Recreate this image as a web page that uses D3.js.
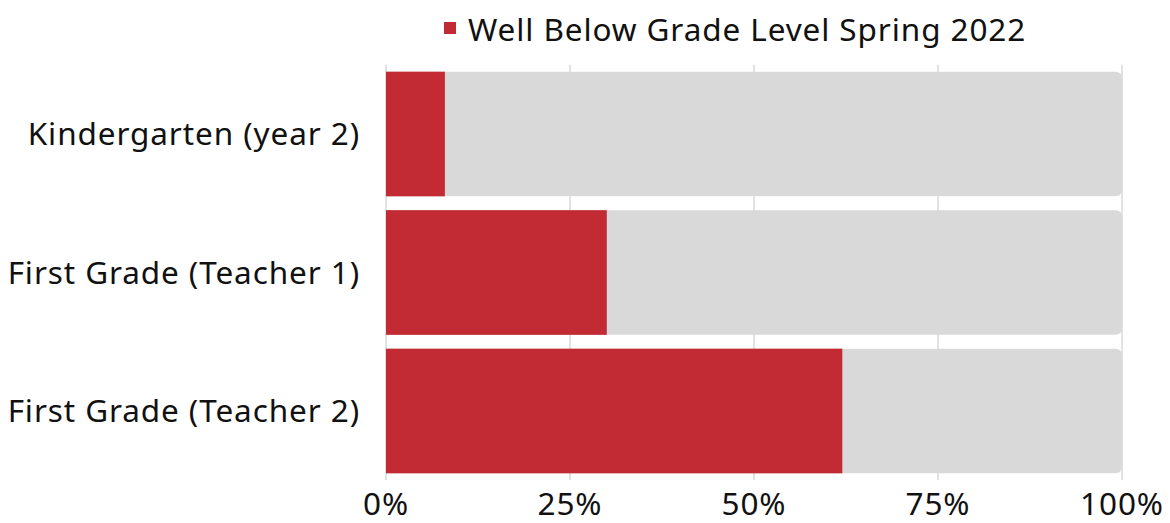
<!DOCTYPE html>
<html>
<head>
<meta charset="utf-8">
<script src="https://cdn.jsdelivr.net/npm/d3@7"></script>
<style>
html,body{margin:0;padding:0;background:#fff;}
svg{display:block;font-family:"Noto Sans",sans-serif;}
</style>
</head>
<body>
<svg id="chart" width="1170" height="523"></svg>
<script>
const categories = ["Kindergarten (year 2)", "First Grade (Teacher 1)", "First Grade (Teacher 2)"];
const wellBelow = [0.08, 0.30, 0.62];
const tickValues = [0, 0.25, 0.5, 0.75, 1];
const legendLabel = "Well Below Grade Level Spring 2022";

const svg = d3.select("#chart");
const margin = {left: 386, right: 48, top: 64.75, bottom: 42.75};
const W = 1170, H = 523;
const FS = 31.5, LS = 0.9;
const x = d3.scaleLinear().domain([0, 1]).range([margin.left, W - margin.right]);
const y = d3.scaleBand().domain(categories).range([margin.top, H - margin.bottom]).paddingInner(0.1).paddingOuter(0.05);

// gridlines
svg.append("g").selectAll("line").data(tickValues).join("line")
  .attr("x1", d => x(d)).attr("x2", d => x(d))
  .attr("y1", margin.top).attr("y2", H - margin.bottom)
  .attr("stroke", "#d9d9d9").attr("stroke-width", 1.5);

// background bars (remainder to 100%) with rounded right end
const r = 7;
svg.append("g").selectAll("path").data(categories).join("path")
  .attr("fill", "#d9d9d9")
  .attr("d", d => {
    const x0 = x(0), x1 = x(1), y0 = y(d), y1 = y(d) + y.bandwidth();
    return `M${x0},${y0}H${x1 - r}Q${x1},${y0} ${x1},${y0 + r}V${y1 - r}Q${x1},${y1} ${x1 - r},${y1}H${x0}Z`;
  });

// red bars
svg.append("g").selectAll("rect").data(categories).join("rect")
  .attr("x", x(0)).attr("y", d => y(d))
  .attr("width", (d, i) => x(wellBelow[i]) - x(0))
  .attr("height", y.bandwidth())
  .attr("fill", "#c22b33");

// y labels
svg.append("g").selectAll("text").data(categories).join("text")
  .attr("x", 360).attr("y", d => y(d) + y.bandwidth() / 2)
  .attr("dy", "0.36em").attr("text-anchor", "end")
  .attr("font-size", FS).attr("letter-spacing", LS).attr("fill", "#111")
  .text(d => d);

// x tick labels
svg.append("g").selectAll("text").data(tickValues).join("text")
  .attr("x", d => x(d)).attr("y", 515)
  .attr("text-anchor", "middle").attr("font-size", FS).attr("letter-spacing", LS).attr("fill", "#111")
  .text(d => d3.format(".0%")(d));

// legend
svg.append("rect").attr("x", 444).attr("y", 22).attr("width", 12).attr("height", 12).attr("fill", "#c22b33");
svg.append("text").attr("x", 468).attr("y", 41).attr("font-size", FS).attr("letter-spacing", LS).attr("fill", "#111").text(legendLabel);
</script>
</body>
</html>
